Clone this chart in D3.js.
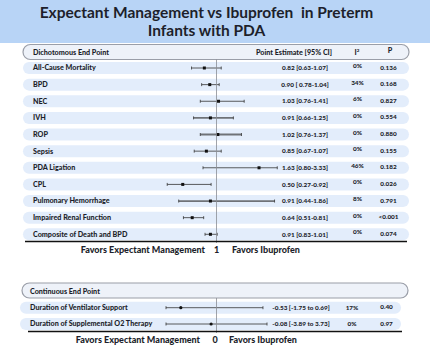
<!DOCTYPE html>
<html>
<head>
<meta charset="utf-8">
<script src="https://cdn.jsdelivr.net/npm/d3@7"></script>
<style>
  body { margin: 0; background: #fff; }
  text { font-family: Lato, "Open Sans", sans-serif; fill: #1d1f2b; font-weight: 900; white-space: pre; }
</style>
</head>
<body>
<div id="chart"></div>
<script>
// dichotomous end points (risk ratio)
const dichoNames = ['All-Cause Mortality', 'BPD', 'NEC', 'IVH', 'ROP', 'Sepsis', 'PDA Ligation', 'CPL',
  'Pulmonary Hemorrhage', 'Impaired Renal Function', 'Composite of Death and BPD'];
const dichoEst = [0.82, 0.90, 1.03, 0.91, 1.02, 0.85, 1.63, 0.50, 0.91, 0.64, 0.91];
const dichoLow = [0.63, 0.78, 0.76, 0.66, 0.76, 0.67, 0.80, 0.27, 0.44, 0.51, 0.83];
const dichoHigh = [1.07, 1.04, 1.41, 1.25, 1.37, 1.07, 3.33, 0.92, 1.86, 0.81, 1.01];
const dichoCIText = ['0.82 [0.63-1.07]', '0.90 [ 0.78-1.04]', '1.03 [0.76-1.41]', '0.91 [0.66-1.25]',
  '1.02 [0.76-1.37]', '0.85 [0.67-1.07]', '1.63 [0.80-3.33]', '0.50 [0.27-0.92]', '0.91 [0.44-1.86]',
  '0.64 [0.51-0.81]', '0.91 [0.83-1.01]'];
const dichoI2 = ['0%', '34%', '6%', '0%', '0%', '0%', '46%', '0%', '8%', '0%', '0%'];
const dichoP = ['0.136', '0.168', '0.827', '0.554', '0.880', '0.155', '0.182', '0.026', '0.791', '<0.001', '0.074'];
const dichoThick = ['IVH', 'ROP', 'Pulmonary Hemorrhage'];

// continuous end points (mean difference)
const contNames = ['Duration of Ventilator Support', 'Duration of Supplemental O2 Therapy'];
const contEst = [-0.53, -0.08];
const contLow = [-1.75, -3.89];
const contHigh = [0.69, 3.73];
const contCIText = ['-0.53 [-1.75 to 0.69]', '-0.08 [-3.89 to 3.73]'];
const contI2 = ['17%', '0%'];
const contP = ['0.40', '0.97'];

const W = 430, H = 350;
const svg = d3.select('#chart').append('svg').attr('width', W).attr('height', H);

// title band
svg.append('rect').attr('x', 0).attr('y', 0).attr('width', W).attr('height', 43).attr('fill', '#b8d4f6');
svg.append('text').attr('x', 206.5).attr('y', 18).attr('text-anchor', 'middle')
  .style('font-size', '15.5px').style('font-weight', 700)
  .text('Expectant Management vs Ibuprofen  in Preterm');
svg.append('text').attr('x', 206.5).attr('y', 36).attr('text-anchor', 'middle')
  .style('font-size', '15.5px').style('font-weight', 700)
  .text('Infants with PDA');

// ---------- dichotomous block ----------
const x = d3.scaleLinear().domain([0, 2]).range([149, 284]);
const xClamp = v => x(Math.min(v, 1.9));
const y = d3.scalePoint().domain(dichoNames).range([68, 234.3]);

svg.append('rect').attr('x', 23).attr('y', 44.5).attr('width', 386).attr('height', 15).attr('rx', 7.5)
  .attr('fill', '#eef2f9').attr('stroke', '#9a9ea8').attr('stroke-width', 1.2);
svg.append('text').attr('x', 33).attr('y', 54.5).style('font-size', '7.2px')
  .text('Dichotomous End Point');
svg.append('text').attr('x', 294).attr('y', 54.5).attr('text-anchor', 'middle')
  .style('font-size', '7.2px').text('Point Estimate [95% CI]');
svg.append('text').attr('x', 357).attr('y', 54.5).attr('text-anchor', 'middle')
  .style('font-size', '7.2px')
  .html('I<tspan dy="-3" style="font-size:4.5px">2</tspan>');
svg.append('text').attr('x', 390).attr('y', 53).attr('text-anchor', 'middle')
  .style('font-size', '7.2px').text('P');

const rows = svg.append('g').selectAll('g').data(dichoNames).join('g')
  .attr('transform', d => `translate(0,${y(d)})`);

rows.append('rect').attr('x', 23).attr('y', -6).attr('width', 386).attr('height', 12).attr('rx', 6)
  .attr('fill', '#e3edfb');
rows.append('text').attr('x', 33).attr('y', 2.4).style('font-size', '7.2px')
  .text(d => d);

svg.append('line').attr('x1', x(1)).attr('x2', x(1)).attr('y1', 59.5).attr('y2', 243)
  .attr('stroke', '#8a8d94').attr('stroke-width', 0.8);

rows.each(function (d, i) {
  const g = d3.select(this);
  const thick = dichoThick.includes(d);
  g.append('line').attr('x1', x(dichoLow[i])).attr('x2', xClamp(dichoHigh[i])).attr('y1', 0).attr('y2', 0)
    .attr('stroke', thick ? '#6f7277' : '#333').attr('stroke-width', thick ? 1.8 : 0.8);
  [x(dichoLow[i]), xClamp(dichoHigh[i])].forEach(cx => {
    g.append('line').attr('x1', cx).attr('x2', cx).attr('y1', -1.5).attr('y2', 1.5)
      .attr('stroke', '#333').attr('stroke-width', 0.8);
  });
  g.append('rect').attr('x', x(dichoEst[i]) - 1.5).attr('y', -1.5).attr('width', 3).attr('height', 3)
    .attr('fill', '#111');
  g.append('text').attr('x', 305).attr('y', 2.2).attr('text-anchor', 'middle')
    .style('font-size', '6.4px').text(dichoCIText[i]);
  g.append('text').attr('x', 357.5).attr('y', 0).attr('text-anchor', 'middle')
    .style('font-size', '6.4px').text(dichoI2[i]);
  g.append('text').attr('x', 388.5).attr('y', 1.5).attr('text-anchor', 'middle')
    .style('font-size', '6.4px').text(dichoP[i]);
});

svg.append('line').attr('x1', 25).attr('x2', 407).attr('y1', 241.5).attr('y2', 241.5)
  .attr('stroke', '#111').attr('stroke-width', 1.5);
svg.append('text').attr('x', 205).attr('y', 253).attr('text-anchor', 'end')
  .style('font-size', '9px').text('Favors Expectant Management');
svg.append('text').attr('x', x(1)).attr('y', 253).attr('text-anchor', 'middle')
  .style('font-size', '9px').text('1');
svg.append('text').attr('x', 232).attr('y', 253)
  .style('font-size', '9px').text('Favors Ibuprofen');

// ---------- continuous block ----------
const xc = d3.scaleLinear().domain([-0.75, 0.75]).range([166, 267]).clamp(true);
const yc = d3.scalePoint().domain(contNames).range([307.7, 324]);

svg.append('rect').attr('x', 22).attr('y', 283).attr('width', 386).attr('height', 15).attr('rx', 7.5)
  .attr('fill', '#eef2f9').attr('stroke', '#9a9ea8').attr('stroke-width', 1.2);
svg.append('text').attr('x', 30).attr('y', 293.5).style('font-size', '7.2px')
  .text('Continuous End Point');

const crows = svg.append('g').selectAll('g').data(contNames).join('g')
  .attr('transform', d => `translate(0,${yc(d)})`);
crows.append('rect').attr('x', 20).attr('y', -6).attr('width', 381).attr('height', 12).attr('rx', 6)
  .attr('fill', '#e3edfb');
crows.append('text').attr('x', 30).attr('y', 2.4).style('font-size', '7.2px')
  .text(d => d);

svg.append('line').attr('x1', xc(0)).attr('x2', xc(0)).attr('y1', 298).attr('y2', 333)
  .attr('stroke', '#8a8d94').attr('stroke-width', 0.8);

crows.each(function (d, i) {
  const g = d3.select(this);
  g.append('line').attr('x1', xc(contLow[i])).attr('x2', xc(contHigh[i])).attr('y1', 0).attr('y2', 0)
    .attr('stroke', '#333').attr('stroke-width', 0.8);
  [xc(contLow[i]), xc(contHigh[i])].forEach(cx => {
    g.append('line').attr('x1', cx).attr('x2', cx).attr('y1', -1.5).attr('y2', 1.5)
      .attr('stroke', '#333').attr('stroke-width', 0.8);
  });
  g.append('circle').attr('cx', xc(contEst[i])).attr('cy', 0).attr('r', 1.6).attr('fill', '#111');
  g.append('text').attr('x', 301).attr('y', 2.2).attr('text-anchor', 'middle')
    .style('font-size', '6.4px').text(contCIText[i]);
  g.append('text').attr('x', 352).attr('y', 2.2).attr('text-anchor', 'middle')
    .style('font-size', '6.4px').text(contI2[i]);
  g.append('text').attr('x', 386.5).attr('y', 1.5).attr('text-anchor', 'middle')
    .style('font-size', '6.4px').text(contP[i]);
});

svg.append('line').attr('x1', 28).attr('x2', 402).attr('y1', 331.5).attr('y2', 331.5)
  .attr('stroke', '#111').attr('stroke-width', 1.5);
svg.append('text').attr('x', 200).attr('y', 343).attr('text-anchor', 'end')
  .style('font-size', '9px').text('Favors Expectant Management');
svg.append('text').attr('x', 215).attr('y', 343).attr('text-anchor', 'middle')
  .style('font-size', '9px').text('0');
svg.append('text').attr('x', 229).attr('y', 343)
  .style('font-size', '9px').text('Favors Ibuprofen');
</script>
</body>
</html>
